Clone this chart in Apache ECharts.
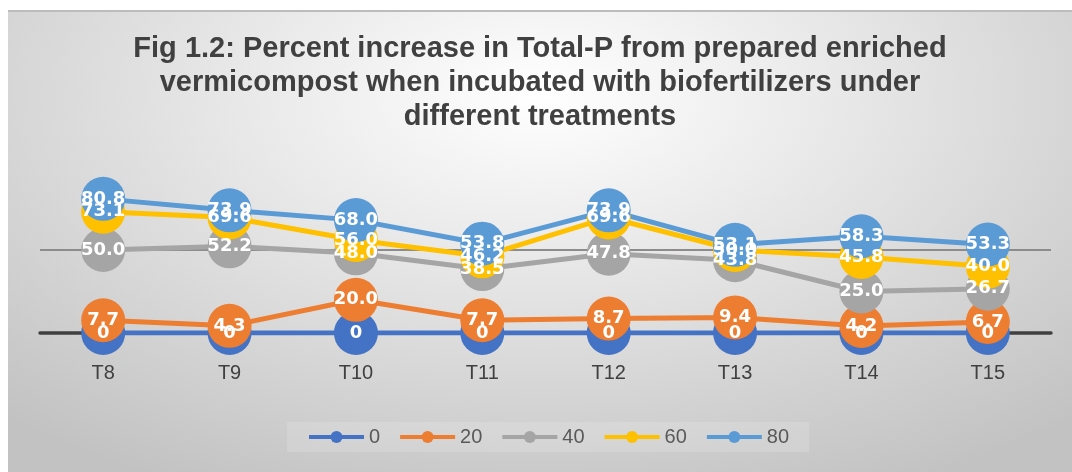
<!DOCTYPE html>
<html>
<head>
<meta charset="utf-8">
<script src="https://cdn.jsdelivr.net/npm/echarts@6/dist/echarts.min.js"></script>
<style>
  html, body { margin: 0; padding: 0; background: #fff; }
  #chart {
    position: absolute;
    left: 8px;
    top: 10px;
    width: 1064px;
    height: 462px;
    border-top: 2px solid #bcbcbc;
    box-sizing: border-box;
    background: radial-gradient(ellipse 75% 95% at 50% 18%, #ffffff 0%, #eaeaea 35%, #d4d4d4 70%, #c2c2c2 100%);
  }
</style>
</head>
<body>
<div id="chart"></div>
<script>
// treatments on the x axis
const categories = ["T8", "T9", "T10", "T11", "T12", "T13", "T14", "T15"];
// series names (legend)
const seriesNames = ["0", "20", "40", "60", "80"];
const seriesColors = ["#4472C4", "#ED7D31", "#A5A5A5", "#FFC000", "#5B9BD5"];

// percent increase values
const s0 = [0, 0, 0, 0, 0, 0, 0, 0];
const s20 = [7.7, 4.3, 20.0, 7.7, 8.7, 9.4, 4.2, 6.7];
const s40 = [50.0, 52.2, 48.0, 38.5, 47.8, 43.8, 25.0, 26.7];
const s60 = [73.1, 69.6, 56.0, 46.2, 69.6, 50.0, 45.8, 40.0];
const s80 = [80.8, 73.9, 68.0, 53.8, 73.9, 53.1, 58.3, 53.3];
const allValues = [s0, s20, s40, s60, s80];

const chart = echarts.init(document.getElementById("chart"));

function fmt(p) {
  return p.value === 0 ? "0" : p.value.toFixed(1);
}

// line + marker series
const lineSeries = allValues.map(function (vals, i) {
  return {
    name: seriesNames[i],
    type: "line",
    data: vals,
    z: 2,
    symbol: "circle",
    symbolSize: 44,
    lineStyle: { width: 5, color: seriesColors[i] },
    itemStyle: { color: seriesColors[i] },
    label: { show: false },
    emphasis: { disabled: true }
  };
});

// labels on top of all markers (Excel draws labels above every series)
const labelSeries = allValues.map(function (vals, i) {
  return {
    name: "lbl" + seriesNames[i],
    type: "line",
    data: vals,
    z: 5,
    symbol: "circle",
    symbolSize: 1,
    lineStyle: { width: 0, opacity: 0 },
    itemStyle: { color: "rgba(0,0,0,0)" },
    label: {
      show: true,
      position: "inside",
      formatter: fmt,
      color: "#fff",
      fontFamily: "DejaVu Sans",
      fontWeight: "bold",
      fontSize: 18
    },
    emphasis: { disabled: true },
    silent: true
  };
});

const option = {
  animation: false,
  title: {
    text: "Fig 1.2: Percent increase in Total-P from prepared enriched\nvermicompost when incubated with biofertilizers under\ndifferent treatments",
    left: "center",
    top: 15,
    padding: [5, 0, 5, 10],
    textStyle: {
      fontFamily: "Liberation Sans",
      fontWeight: "bold",
      fontSize: 29,
      lineHeight: 34,
      color: "#404040"
    }
  },
  legend: {
    data: seriesNames,
    left: 279,
    top: 410,
    itemWidth: 55,
    itemHeight: 15,
    itemGap: 18,
    padding: [5, 20],
    backgroundColor: "rgba(255,255,255,0.15)",
    lineStyle: { width: 4 },
    textStyle: { fontFamily: "Liberation Sans", fontSize: 20, color: "#595959" }
  },
  grid: { left: 32, right: 21, top: 155, bottom: 139 },
  xAxis: {
    type: "category",
    data: categories,
    boundaryGap: true,
    axisTick: { show: false },
    axisLine: { lineStyle: { color: "#404040", width: 3.5 } },
    axisLabel: { margin: 30, fontFamily: "Liberation Sans", fontSize: 20, color: "#404040" }
  },
  yAxis: {
    type: "value",
    min: 0,
    max: 100,
    interval: 50,
    axisLabel: { show: false },
    axisLine: { show: false },
    axisTick: { show: false },
    splitLine: {
      lineStyle: { color: ["rgba(0,0,0,0)", "#8c8c8c", "rgba(0,0,0,0)"], width: 2 }
    }
  },
  series: lineSeries.concat(labelSeries)
};

chart.setOption(option);
</script>
</body>
</html>
